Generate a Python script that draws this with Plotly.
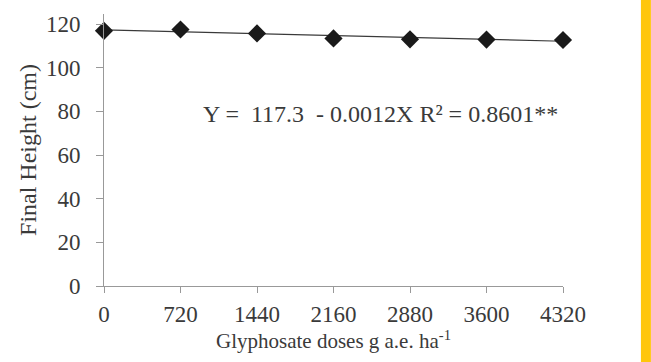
import plotly.graph_objects as go

doses = [0, 720, 1440, 2160, 2880, 3600, 4320]
heights = [116.9, 117.5, 115.7, 113.4, 113.0, 112.9, 112.7]
intercept = 117.3
slope = -0.0012
fit_y = [intercept + slope * d for d in doses]
x_ticks = [0, 720, 1440, 2160, 2880, 3600, 4320]
y_ticks = [0, 20, 40, 60, 80, 100, 120]

font_family = "Liberation Serif"
txt_color = "#3a3a3a"

fig = go.Figure()
fig.add_trace(go.Scatter(x=doses, y=fit_y, mode="lines",
                         line=dict(color="#3a3a3a", width=1.2),
                         hoverinfo="skip", showlegend=False, cliponaxis=False))
fig.add_trace(go.Scatter(x=doses, y=heights, mode="markers",
                         marker=dict(symbol="diamond", size=14, color="#1a1a1a"),
                         showlegend=False, cliponaxis=False))

fig.add_annotation(x=(201 - 103.5) / (563 - 103.5), y=(285.7 - 113) / 2.197, xref="paper", yref="y",
                   text="Y =  117.3  - 0.0012X R² = 0.8601**",
                   showarrow=False, xanchor="left",
                   font=dict(family=font_family, size=24, color=txt_color))

fig.add_shape(type="rect", xref="paper", yref="paper",
              x0=(641 - 103.5) / (563 - 103.5), x1=(651 - 103.5) / (563 - 103.5),
              y0=-1, y1=2, fillcolor="#FFC60B", line=dict(width=0), layer="above")

fig.update_layout(
    width=651, height=362,
    margin=dict(l=103.5, r=88, t=12, b=76),
    plot_bgcolor="white", paper_bgcolor="white",
    font=dict(family=font_family, color=txt_color),
    xaxis=dict(range=[0, 4320], tickvals=x_ticks, ticktext=[str(v) for v in x_ticks],
               showgrid=False, zeroline=False, showline=True, linecolor="#999999",
               linewidth=1, ticks="outside", ticklen=6, tickcolor="#999999",
               ticklabelstandoff=1,
               tickfont=dict(size=23, color=txt_color),
               title=dict(text="Glyphosate doses g a.e. ha<sup>-1</sup>",
                          font=dict(size=21, color=txt_color), standoff=6)),
    yaxis=dict(range=[0, 124.6], tickvals=y_ticks, ticktext=[str(v) for v in y_ticks],
               showgrid=False, zeroline=False, showline=True, linecolor="#999999",
               linewidth=1, ticks="outside", ticklen=7, tickcolor="#999999",
               ticklabelstandoff=11,
               tickfont=dict(size=23, color=txt_color),
               title=dict(text="Final Height (cm)",
                          font=dict(size=24, color=txt_color), standoff=2)),
)

fig.write_html("out.html")
